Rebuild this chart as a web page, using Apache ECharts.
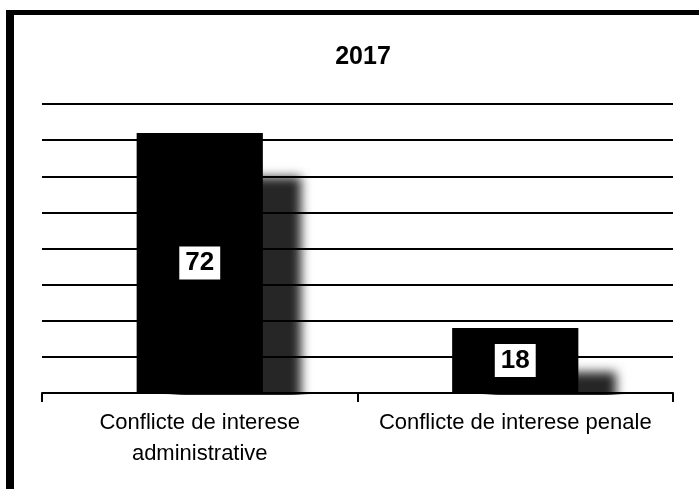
<!DOCTYPE html>
<html>
<head>
<meta charset="utf-8">
<script src="https://cdn.jsdelivr.net/npm/echarts@6/dist/echarts.min.js"></script>
<style>
  html, body { margin: 0; padding: 0; background: #fff; }
  .wrap { position: relative; width: 699px; height: 489px; overflow: hidden; }
  .frame {
    position: absolute; left: 6px; top: 10px; right: -20px; bottom: -20px;
    border-left: 8px solid #000; border-top: 5px solid #000;
  }
  #chart { position: absolute; left: 0; top: 0; width: 699px; height: 489px; }
</style>
</head>
<body>
<div class="wrap">
  <div class="frame"></div>
  <div id="chart"></div>
</div>
<script>
// 数据
var titleText = '2017'
var categories = ['Conflicte de interese\nadministrative', 'Conflicte de interese penale']
var values = [72, 18]
var yMin = 0
var yMax = 80
var yStep = 10

var sans = '"Liberation Sans", Arial, sans-serif'

var myChart = echarts.init(document.getElementById('chart'))
myChart.setOption({
  animation: false,
  title: {
    text: titleText,
    left: 358,
    textAlign: 'center',
    top: 40,
    textStyle: {
      color: '#000',
      fontFamily: sans,
      fontWeight: 'bold',
      fontSize: 25
    }
  },
  grid: {
    left: 42,
    right: 26,
    top: 104,
    bottom: 96
  },
  // 遮住轴线下方的阴影
  graphic: [{
    type: 'rect',
    left: 30,
    bottom: 0,
    z: 3,
    shape: { width: 669, height: 94 },
    style: { fill: '#fff' }
  }],
  xAxis: {
    type: 'category',
    data: categories,
    z: 5,
    axisLine: {
      lineStyle: { color: '#000', width: 2 }
    },
    axisTick: {
      show: true,
      length: 9,
      lineStyle: { color: '#000', width: 2 }
    },
    axisLabel: {
      color: '#000',
      fontFamily: sans,
      fontSize: 22,
      lineHeight: 31,
      margin: 14,
      interval: 0
    }
  },
  yAxis: {
    type: 'value',
    min: yMin,
    max: yMax,
    interval: yStep,
    axisLabel: { show: false },
    axisLine: { show: false },
    axisTick: { show: false },
    splitLine: {
      show: true,
      lineStyle: { color: '#000', width: 2 }
    }
  },
  series: [{
    type: 'bar',
    data: values,
    barWidth: '40%',
    itemStyle: {
      color: '#000',
      shadowColor: 'rgba(0,0,0,0.85)',
      shadowBlur: 10,
      shadowOffsetX: 38,
      shadowOffsetY: 44
    },
    label: {
      show: true,
      position: 'inside',
      color: '#000',
      fontFamily: sans,
      fontWeight: 'bold',
      fontSize: 26,
      lineHeight: 24,
      backgroundColor: '#fff',
      padding: [5, 6, 4, 6]
    }
  }]
})
</script>
</body>
</html>
